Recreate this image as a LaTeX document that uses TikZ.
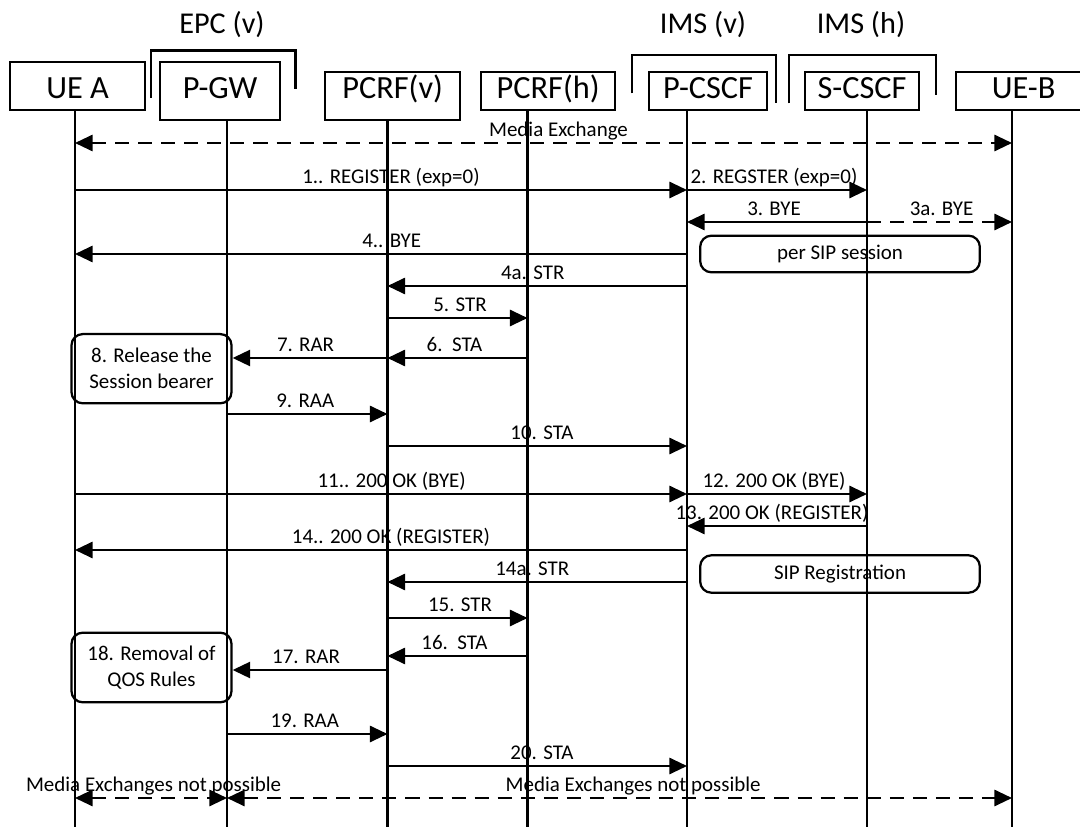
\documentclass[tikz,border=0pt]{standalone}
\usepackage{fontspec}
\setmainfont{Carlito}
\usetikzlibrary{arrows.meta}
\newcommand\hdrfont{\fontsize{23}{25}\selectfont}
\newcommand\grpfont{\fontsize{21.5}{24}\selectfont}
\newcommand\msgfont{\fontsize{14.9}{18.5}\selectfont}
\tikzset{
  hdr/.style 2 args={draw, line width=1.6pt, inner sep=0pt, anchor=north west,
    text height=#1, text depth=#2, font=\hdrfont},
  grp/.style={anchor=base, inner sep=0pt, font=\grpfont},
  bracket/.style={line width=1.5pt},
  life/.style={line width=1.6pt},
  msg/.style={line width=1.6pt, ->},
  dashline/.style={line width=1.6pt, dash pattern=on 10pt off 6.4pt},
  media/.style={dashline, <->},
  lbl/.style={midway, anchor=base, yshift=4.4pt, inner sep=0pt, font=\msgfont},
  nudge/.style={xshift=#1*0.025cm},
  note/.style={draw, line width=1.6pt, rounded corners=8pt, inner sep=0pt,
    align=center, font=\msgfont},
}
\begin{document}
\begin{tikzpicture}[x=0.025cm,y=-0.025cm,>={Triangle[length=12.5pt,width=11.5pt]}]
\useasboundingbox (0,0) rectangle (1080,827);
% domains
\node[grp] (epc) at (222,34) {EPC (v)};
\node[grp] (imsv) at (703,34) {IMS (v)};
\node[grp] (imsh) at (861,34) {IMS (h)};
\draw[bracket] (150.7,97.7) -- (150.7,50.5) -- (295.5,50.5) -- (295.5,88.7);
\draw[bracket] (632,93.3) -- (632,55) -- (776,55) -- (776,103.3);
\draw[bracket] (789,103.3) -- (789,55) -- (936,55) -- (936,95);
% entities
\node[hdr={0.9cm}{0.3cm}, minimum width=3.375cm] (uea) at (9,61) {UE A};
\node[hdr={0.9cm}{0.55cm}, minimum width=3cm] (pgw) at (159,61) {P-GW};
\node[hdr={0.65cm}{0.55cm}, minimum width=3.375cm] (pcrfv) at (324,71) {PCRF(v)};
\node[hdr={0.65cm}{0.3cm}, minimum width=3.35cm] (pcrfh) at (480,71) {PCRF(h)};
\node[hdr={0.65cm}{0.3cm}, minimum width=2.95cm] (pcscf) at (648,71) {P-CSCF};
\node[hdr={0.65cm}{0.3cm}, minimum width=2.85cm] (scscf) at (804,71) {S-CSCF};
\node[hdr={0.65cm}{0.3cm}, minimum width=3.375cm] (ueb) at (955,71) {UE-B};
\foreach \n/\x in {uea/75,pgw/227,pcrfv/387.5,pcrfh/527.5,pcscf/687,scscf/867,ueb/1012}
  \draw[life] (\n.south -| \x,0) coordinate (\n-t) -- (\x,827);
% notes
\node[note, minimum width=6.99cm, minimum height=0.915cm] (persip) at (840,254) {per SIP session};
\node[note, minimum width=6.99cm, minimum height=0.935cm] (sipreg) at (840,574) {SIP Registration};
\node[note, minimum width=4cm, minimum height=1.73cm] (rel) at (151.5,368.7) {8. Release the\\Session bearer};
\node[note, minimum width=4cm, minimum height=1.74cm] (rem) at (151.5,667.5) {18. Removal of\\QOS Rules};
% session release
\draw[media] (uea-t |- 0,143) -- (ueb-t |- 0,143) node[lbl,nudge=15] (mx) {Media Exchange};
\draw[msg] (uea-t |- 0,190) -- (pcscf-t |- 0,190) node[lbl,nudge=10] (m1) {1.. REGISTER (exp=0)};
\draw[msg] (pcscf-t |- 0,190) -- (scscf-t |- 0,190) node[lbl,nudge=-3] (m2) {2. REGSTER (exp=0)};
\draw[msg] (scscf-t |- 0,222) -- (pcscf-t |- 0,222) node[lbl,nudge=-3] (m3) {3. BYE};
\draw[dashline,->] (scscf-t |- 0,222) -- (ueb-t |- 0,222) node[lbl,nudge=2] (m3a) {3a. BYE};
\draw[msg] (pcscf-t |- 0,254) -- (uea-t |- 0,254) node[lbl,nudge=10.7] (m4) {4.. BYE};
\draw[msg] (pcscf-t |- 0,286) -- (pcrfv-t |- 0,286) node[lbl,nudge=-4.5] (m4a) {4a. STR};
\draw[msg] (pcrfv-t |- 0,318) -- (pcrfh-t |- 0,318) node[lbl,nudge=2.5] (m5) {5. STR};
\draw[msg] (pcrfh-t |- 0,358) -- (pcrfv-t |- 0,358) node[lbl,nudge=-3] (m6) {6.\ \ STA};
\draw[msg] (pcrfv-t |- 0,358) -- (rel.east |- 0,358) node[lbl,nudge=-4.5] (m7) {7. RAR};
\draw[msg] (pgw-t |- 0,414) -- (pcrfv-t |- 0,414) node[lbl,nudge=-2] (m9) {9. RAA};
\draw[msg] (pcrfv-t |- 0,446) -- (pcscf-t |- 0,446) node[lbl,nudge=4.7] (m10) {10. STA};
% de-registration
\draw[msg] (uea-t |- 0,494) -- (pcscf-t |- 0,494) node[lbl,nudge=10.7] (m11) {11.. 200 OK (BYE)};
\draw[msg] (pcscf-t |- 0,494) -- (scscf-t |- 0,494) node[lbl,nudge=-3] (m12) {12. 200 OK (BYE)};
\draw[msg] (scscf-t |- 0,526) -- (pcscf-t |- 0,526) node[lbl,nudge=-5] (m13) {13. 200 OK (REGISTER)};
\draw[msg] (pcscf-t |- 0,550) -- (uea-t |- 0,550) node[lbl,nudge=10] (m14) {14.. 200 OK (REGISTER)};
\draw[msg] (pcscf-t |- 0,582) -- (pcrfv-t |- 0,582) node[lbl,nudge=-5] (m14a) {14a. STR};
\draw[msg] (pcrfv-t |- 0,618) -- (pcrfh-t |- 0,618) node[lbl,nudge=2.5] (m15) {15. STR};
\draw[msg] (pcrfh-t |- 0,656) -- (pcrfv-t |- 0,656) node[lbl,nudge=-3] (m16) {16.\ \ STA};
\draw[msg] (pcrfv-t |- 0,670) -- (rem.east |- 0,670) node[lbl,nudge=-4] (m17) {17. RAR};
\draw[msg] (pgw-t |- 0,734) -- (pcrfv-t |- 0,734) node[lbl,nudge=-2.5] (m19) {19. RAA};
\draw[msg] (pcrfv-t |- 0,766) -- (pcscf-t |- 0,766) node[lbl,nudge=4.7] (m20) {20. STA};
\draw[media] (uea-t |- 0,798) -- (pgw-t |- 0,798) node[lbl,nudge=2.6] (mn1) {Media Exchanges not possible};
\draw[media] (pgw-t |- 0,798) -- (ueb-t |- 0,798) node[lbl,nudge=13.7] (mn2) {Media Exchanges not possible};
\end{tikzpicture}
\end{document}
